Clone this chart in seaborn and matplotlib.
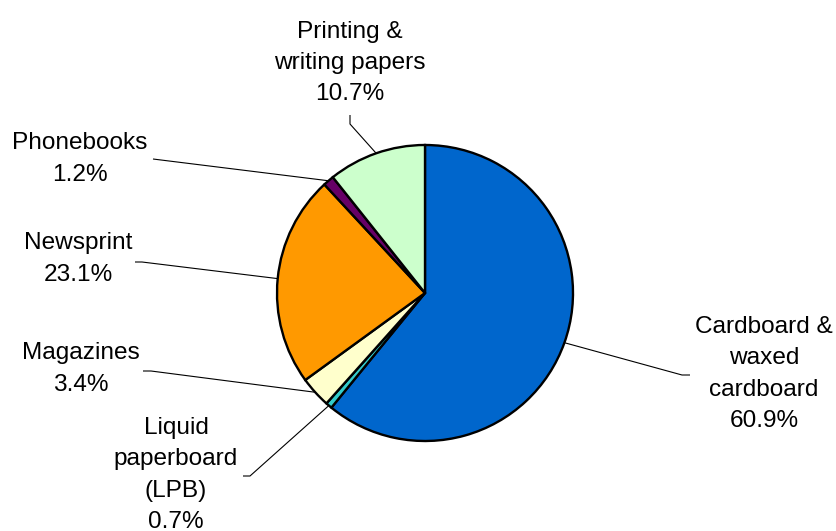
import numpy as np
import matplotlib
matplotlib.use("Agg")
import matplotlib.pyplot as plt
import seaborn as sns

# Composition of recovered paper by grade (%)
categories = [
    "Cardboard &\nwaxed\ncardboard",
    "Liquid\npaperboard\n(LPB)",
    "Magazines",
    "Newsprint",
    "Phonebooks",
    "Printing &\nwriting papers",
]
shares = [60.9, 0.7, 3.4, 23.1, 1.2, 10.7]
colors = ["#0066CC", "#33CCCC", "#FFFFCC", "#FF9900", "#660066", "#CCFFCC"]

# Label block centres and leader-line elbows/ends, in pixel space (origin top-left)
label_pos = [(764, 374), (176, 475), (81, 369), (78, 259), (80, 159), (350, 63)]
leader_elbow = [(682, 375), (250, 476), (151, 371), (142, 262), (161, 160), (350, 124)]
leader_end = [(690, 375), (243, 476), (143, 371), (135, 262), (153, 159), (350, 115)]

W, H = 837, 531
CX, CY, R = 425, 293, 148

sns.set_theme(style="white")
plt.rcParams["font.family"] = ["Liberation Sans", "DejaVu Sans"]

fig = plt.figure(figsize=(W / 100, H / 100), dpi=100)
ax = fig.add_axes([0, 0, 1, 1])


def flip(y):
    return H - y


wedges, _ = ax.pie(
    shares,
    colors=colors,
    startangle=90,
    counterclock=False,
    center=(CX, flip(CY)),
    radius=R,
    frame=True,
    wedgeprops=dict(edgecolor="black", linewidth=1.7),
)
ax.set_xlim(0, W)
ax.set_ylim(0, H)
ax.set_aspect("equal")
ax.axis("off")

for w, name, val, (lx, ly), (ex, ey), (sx, sy) in zip(
    wedges, categories, shares, label_pos, leader_elbow, leader_end
):
    mid = np.deg2rad((w.theta1 + w.theta2) / 2)
    px = CX + R * np.cos(mid)
    py = flip(CY) + R * np.sin(mid)
    ax.plot([px, ex, sx], [py, flip(ey), flip(sy)], color="black", lw=0.8,
            solid_capstyle="butt", zorder=0)
    ax.text(lx, flip(ly), f"{name}\n{val:.1f}%", ha="center", va="center",
            fontsize=17.6, linespacing=1.53, color="black")

fig.savefig("out.png", dpi=100)
